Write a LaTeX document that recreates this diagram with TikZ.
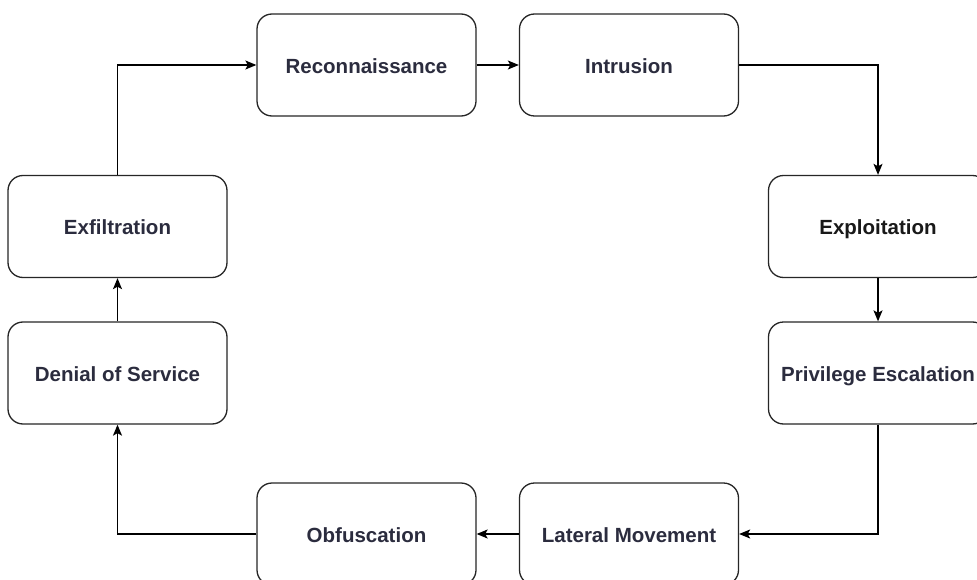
\documentclass[tikz,border=0pt]{standalone}
\usepackage{fontspec}
\setmainfont{Liberation Sans}
\usetikzlibrary{arrows.meta}
\definecolor{labelink}{HTML}{2B2C3E}
\tikzset{
  stage/.style={draw=black!85, line width=1.3pt, rounded corners=15pt, fill=white,
    minimum width=219pt, minimum height=102pt, inner sep=0pt,
    text height=18pt, text depth=1pt,
    font=\fontsize{20.5}{24}\selectfont\bfseries, text=labelink},
  flow/.style={draw=black, line width=1.3pt,
    -{Stealth[length=11pt,width=9pt,inset=2.5pt]}}
}
\begin{document}
\begin{tikzpicture}[x=1pt,y=-1pt]
  \useasboundingbox (0,0) rectangle (977,580);
  \clip (0,0) rectangle (977,580);
  % stages of the attack cycle
  \node[stage] (recon) at (366.5,65)  {Reconnaissance};
  \node[stage] (intr)  at (629,65)    {Intrusion};
  \node[stage, text=black!90] (expl)  at (878,226.5) {Exploitation};
  \node[stage] (priv)  at (878,373)   {Privilege Escalation};
  \node[stage] (lat)   at (629,534)   {Lateral Movement};
  \node[stage] (obf)   at (366.5,534) {Obfuscation};
  \node[stage] (dos)   at (117.5,373) {Denial of Service};
  \node[stage] (exf)   at (117.5,226.5) {Exfiltration};
  % connectors
  \draw[flow] (recon.east) -- (intr.west);
  \draw[flow] (intr.east) -| (expl.north);
  \draw[flow] (expl.south) -- (priv.north);
  \draw[flow] (priv.south) |- (lat.east);
  \draw[flow] (lat.west) -- (obf.east);
  \draw[flow] (obf.west) -| (dos.south);
  \draw[flow] (dos.north) -- (exf.south);
  \draw[flow] (exf.north) |- (recon.west);
\end{tikzpicture}
\end{document}
